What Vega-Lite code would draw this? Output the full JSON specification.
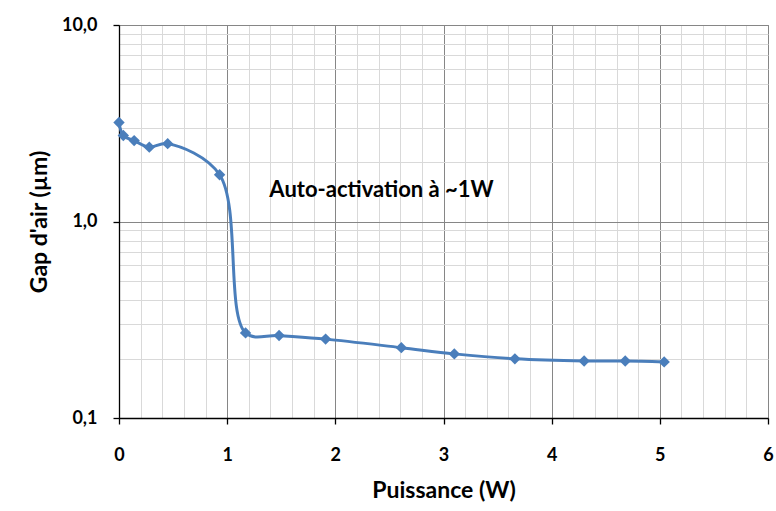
{
  "$schema": "https://vega.github.io/schema/vega-lite/v6.json",
  "width": 649,
  "height": 393,
  "autosize": {"type": "none"},
  "padding": {"left": 119, "top": 25, "right": 8, "bottom": 93},
  "background": "white",
  "config": {
    "font": "Lato",
    "view": {"stroke": "#868686", "strokeWidth": 1},
    "axis": {"labelFont": "Lato", "titleFont": "Lato", "labelFontWeight": "bold", "titleFontWeight": "bold", "labelColor": "#000", "titleColor": "#000"}
  },
  "datasets": {
    "pts": [
      {"p": 0.0, "gap": 3.19},
      {"p": 0.04, "gap": 2.74},
      {"p": 0.14, "gap": 2.58},
      {"p": 0.28, "gap": 2.39},
      {"p": 0.45, "gap": 2.49},
      {"p": 0.93, "gap": 1.73},
      {"p": 1.17, "gap": 0.271},
      {"p": 1.48, "gap": 0.263},
      {"p": 1.91, "gap": 0.252},
      {"p": 2.61, "gap": 0.228},
      {"p": 3.10, "gap": 0.212},
      {"p": 3.66, "gap": 0.200},
      {"p": 4.30, "gap": 0.195},
      {"p": 4.68, "gap": 0.195},
      {"p": 5.04, "gap": 0.193}
    ],
    "note": [{"p": 1.39, "gap": 1.44, "label": "Auto-activation à ~1W"}]
  },
  "layer": [
    {
      "data": {"name": "pts"},
      "mark": {"type": "line", "interpolate": "catmull-rom", "color": "#4a7ebb", "strokeWidth": 3},
      "encoding": {
        "x": {
          "field": "p", "type": "quantitative",
          "scale": {"domain": [0, 6], "nice": false, "zero": false},
          "axis": {
            "title": "Puissance (W)",
            "titleFontSize": 23,
            "titlePadding": 15,
            "labelFontSize": 18,
            "labelPadding": 22,
            "labelFlush": false,
            "labelOverlap": false,
            "labelSeparation": 0,
            "labelBound": false,
            "tickCount": 200,
            "values": [0,0.2,0.4,0.6,0.8,1,1.2,1.4,1.6,1.8,2,2.2,2.4,2.6,2.8,3,3.2,3.4,3.6,3.8,4,4.2,4.4,4.6,4.8,5,5.2,5.4,5.6,5.8,6],
            "labelExpr": "abs(datum.value - round(datum.value)) < 0.001 ? format(datum.value, 'd') : ''",
            "domainColor": "#000",
            "domainWidth": 1.3,
            "tickSize": 6,
            "tickWidth": 1.3,
            "tickColor": {"condition": {"test": "abs(datum.value - round(datum.value)) < 0.001", "value": "#000000"}, "value": "rgba(0,0,0,0)"},
            "grid": true,
            "gridColor": {"condition": {"test": "abs(datum.value - round(datum.value)) < 0.001", "value": "#868686"}, "value": "#d9d9d9"},
            "gridWidth": 1
          }
        },
        "y": {
          "field": "gap", "type": "quantitative",
          "scale": {"type": "log", "domain": [0.1, 10], "nice": false},
          "axis": {
            "title": "Gap d'air (µm)",
            "titleFontSize": 23,
            "titlePadding": 10,
            "labelFontSize": 18,
            "labelPadding": 16,
            "labelFlush": false,
            "labelOverlap": false,
            "labelSeparation": 0,
            "tickCount": 200,
            "values": [0.1,0.2,0.3,0.4,0.5,0.6,0.7,0.8,0.9,1,2,3,4,5,6,7,8,9,10],
            "labelExpr": "abs(log(datum.value)/LN10 - round(log(datum.value)/LN10)) < 0.001 ? replace(format(datum.value, '.1f'), '.', ',') : ''",
            "domainColor": "#000",
            "domainWidth": 1.3,
            "tickSize": 6,
            "tickWidth": 1.3,
            "tickColor": {"condition": {"test": "abs(log(datum.value)/LN10 - round(log(datum.value)/LN10)) < 0.001", "value": "#000000"}, "value": "rgba(0,0,0,0)"},
            "grid": true,
            "gridColor": {"condition": {"test": "abs(log(datum.value)/LN10 - round(log(datum.value)/LN10)) < 0.001", "value": "#868686"}, "value": "#d9d9d9"},
            "gridWidth": 1
          }
        }
      }
    },
    {
      "data": {"name": "pts"},
      "mark": {"type": "point", "shape": "diamond", "filled": true, "size": 130, "color": "#4a7ebb", "opacity": 1},
      "encoding": {
        "x": {"field": "p", "type": "quantitative"},
        "y": {"field": "gap", "type": "quantitative"}
      }
    },
    {
      "data": {"name": "note"},
      "mark": {"type": "text", "align": "left", "baseline": "middle", "fontSize": 22, "fontWeight": "bold", "font": "Lato", "color": "#000"},
      "encoding": {
        "x": {"field": "p", "type": "quantitative"},
        "y": {"field": "gap", "type": "quantitative"},
        "text": {"field": "label"}
      }
    }
  ]
}
